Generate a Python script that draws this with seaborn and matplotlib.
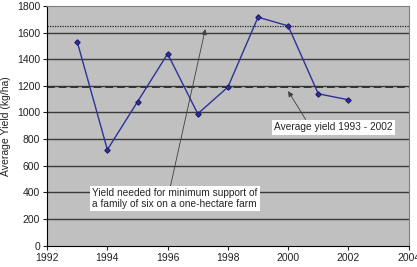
import numpy as np
import pandas as pd
import matplotlib
matplotlib.use("Agg")
import matplotlib.pyplot as plt
import seaborn as sns

years = [1993, 1994, 1995, 1996, 1997, 1998, 1999, 2000, 2001, 2002]
yields = [1530, 720, 1080, 1440, 990, 1190, 1715, 1650, 1140, 1095]
min_support = 1650
avg_yield = 1190

df = pd.DataFrame({'Year': years, 'Yield': yields})

sns.set_theme(style="white")
plt.rcParams['font.family'] = ['Liberation Sans', 'DejaVu Sans']

fig, ax = plt.subplots(figsize=(4.17, 2.67), dpi=100)
ax.set_facecolor('#c0c0c0')
fig.subplots_adjust(left=0.113, right=0.98, top=0.978, bottom=0.08)

for v in range(200, 1800, 200):
    ax.axhline(v, color='#3a3a3a', lw=1.0, zorder=1)
ax.axhline(min_support, color='#222222', lw=0.9, ls=(0, (1, 1)), zorder=2)
ax.axhline(avg_yield, color='#333333', lw=1.4, ls=(0, (4, 2)), zorder=2)

sns.lineplot(data=df, x='Year', y='Yield', color='#30309a', lw=1.0,
             marker='D', markersize=2.8, markeredgecolor='#1a1a70', ax=ax, zorder=3)

ax.set_xlim(1992, 2004)
ax.set_ylim(0, 1800)
ax.set_xticks(range(1992, 2005, 2))
ax.set_yticks(range(0, 1801, 200))
ax.tick_params(labelsize=7.5, length=3, width=0.8, direction='out', pad=2,
               colors='#222222')
ax.tick_params(axis='both', which='both', bottom=True, left=True)
ax.set_xlabel('')
ax.set_ylabel('Average Yield (kg/ha)', fontsize=7.5, color='#222222')
for s in ['left', 'bottom']:
    ax.spines[s].set_color('black')
    ax.spines[s].set_linewidth(0.8)
for s in ['top', 'right']:
    ax.spines[s].set_color('#808080')
    ax.spines[s].set_linewidth(0.8)

ax.annotate('Yield needed for minimum support of\na family of six on a one-hectare farm',
            xy=(1997.25, 1625), xytext=(1993.5, 355), fontsize=7.3,
            va='center', ha='left', linespacing=1.1,
            bbox=dict(boxstyle='square,pad=0.2', fc='white', ec='none'),
            arrowprops=dict(arrowstyle='-|>', color='#404040', lw=0.6,
                            mutation_scale=8, shrinkA=0, shrinkB=0,
                            relpos=(0.47, 1.0)),
            zorder=4)
ax.annotate('Average yield 1993 - 2002',
            xy=(2000.0, 1160), xytext=(2001.5, 890), fontsize=7.3,
            va='center', ha='center',
            bbox=dict(boxstyle='square,pad=0.25', fc='white', ec='none'),
            arrowprops=dict(arrowstyle='-|>', color='#404040', lw=0.6,
                            mutation_scale=8, shrinkA=0, shrinkB=0,
                            relpos=(0.28, 1.0)),
            zorder=4)

plt.savefig('out.png', dpi=100)
